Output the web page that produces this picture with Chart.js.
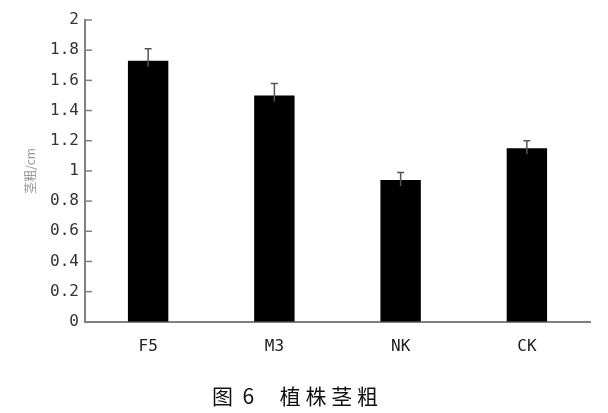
<!DOCTYPE html>
<html>
<head>
<meta charset="utf-8">
<script src="https://cdn.jsdelivr.net/npm/chart.js@4.4.0/dist/chart.umd.min.js"></script>
<style>
  html, body { margin: 0; padding: 0; background: #fff; }
  #wrap { width: 608px; height: 413px; position: relative; }
</style>
</head>
<body>
<div id="wrap"><canvas id="stemChart"></canvas></div>
<script>
// 植株茎粗 data
const categories = ['F5', 'M3', 'NK', 'CK'];
const stemValues = [1.73, 1.50, 0.94, 1.15];
const stemErrors = [0.08, 0.08, 0.05, 0.05];
const yTicks = [0, 0.2, 0.4, 0.6, 0.8, 1, 1.2, 1.4, 1.6, 1.8, 2];

const axisGray = '#808080';

// error bars on top of each bar
const errorBars = {
    id: 'errorBars',
    afterDatasetsDraw(chart) {
        const ctx = chart.ctx;
        const yScale = chart.scales.y;
        const meta = chart.getDatasetMeta(0);
        ctx.save();
        ctx.strokeStyle = '#555';
        ctx.lineWidth = 1.5;
        meta.data.forEach((bar, i) => {
            const top = yScale.getPixelForValue(stemValues[i] + stemErrors[i]);
            ctx.beginPath();
            ctx.moveTo(bar.x, bar.y + 6);
            ctx.lineTo(bar.x, top);
            ctx.moveTo(bar.x - 3.5, top);
            ctx.lineTo(bar.x + 3.5, top);
            ctx.stroke();
        });
        ctx.restore();
    }
};

// small tick marks pointing into the plot
const innerTicks = {
    id: 'innerTicks',
    afterDraw(chart) {
        const ctx = chart.ctx;
        const yScale = chart.scales.y;
        ctx.save();
        ctx.strokeStyle = axisGray;
        ctx.lineWidth = 1.5;
        yTicks.forEach(v => {
            const y = yScale.getPixelForValue(v);
            ctx.beginPath();
            ctx.moveTo(yScale.right, y);
            ctx.lineTo(yScale.right + 7, y);
            ctx.stroke();
        });
        ctx.restore();
    }
};

new Chart(document.getElementById('stemChart').getContext('2d'), {
    type: 'bar',
    data: {
        labels: categories,
        datasets: [{
            data: stemValues,
            backgroundColor: '#000',
            borderWidth: 0,
            categoryPercentage: 1,
            barPercentage: 0.32
        }]
    },
    options: {
        responsive: true,
        maintainAspectRatio: false,
        animation: false,
        layout: {
            padding: { left: 0, right: 18, top: 20, bottom: 0 }
        },
        plugins: {
            legend: { display: false },
            tooltip: { enabled: false },
            title: {
                display: true,
                position: 'bottom',
                text: '图  6　 植 株 茎 粗',
                color: '#111',
                font: { family: '"Noto Sans CJK SC", sans-serif', size: 21, weight: 'normal' },
                padding: { top: 0, bottom: 4 }
            }
        },
        scales: {
            x: {
                grid: { display: false, drawTicks: false },
                border: { display: true, color: axisGray, width: 2 },
                ticks: {
                    color: '#222',
                    padding: 15,
                    font: { family: '"DejaVu Sans Mono", monospace', size: 16 }
                },
                afterFit(scale) { scale.height = 62; }
            },
            y: {
                min: 0,
                max: 2,
                afterBuildTicks(scale) {
                    scale.ticks = yTicks.map(v => ({ value: v }));
                },
                grid: { display: false, drawTicks: false },
                border: { display: true, color: axisGray, width: 2 },
                ticks: {
                    color: '#333',
                    padding: 6,
                    font: { family: '"DejaVu Sans Mono", monospace', size: 16 },
                    callback: function(value) {
                        return String(Math.round(value * 10) / 10);
                    }
                },
                title: {
                    display: true,
                    text: '茎粗/cm',
                    color: '#999',
                    font: { family: '"Noto Sans CJK SC", sans-serif', size: 12 },
                    padding: { top: 23, bottom: 0 }
                },
                afterFit(scale) { scale.width = 85; }
            }
        }
    },
    plugins: [errorBars, innerTicks]
});
</script>
</body>
</html>
